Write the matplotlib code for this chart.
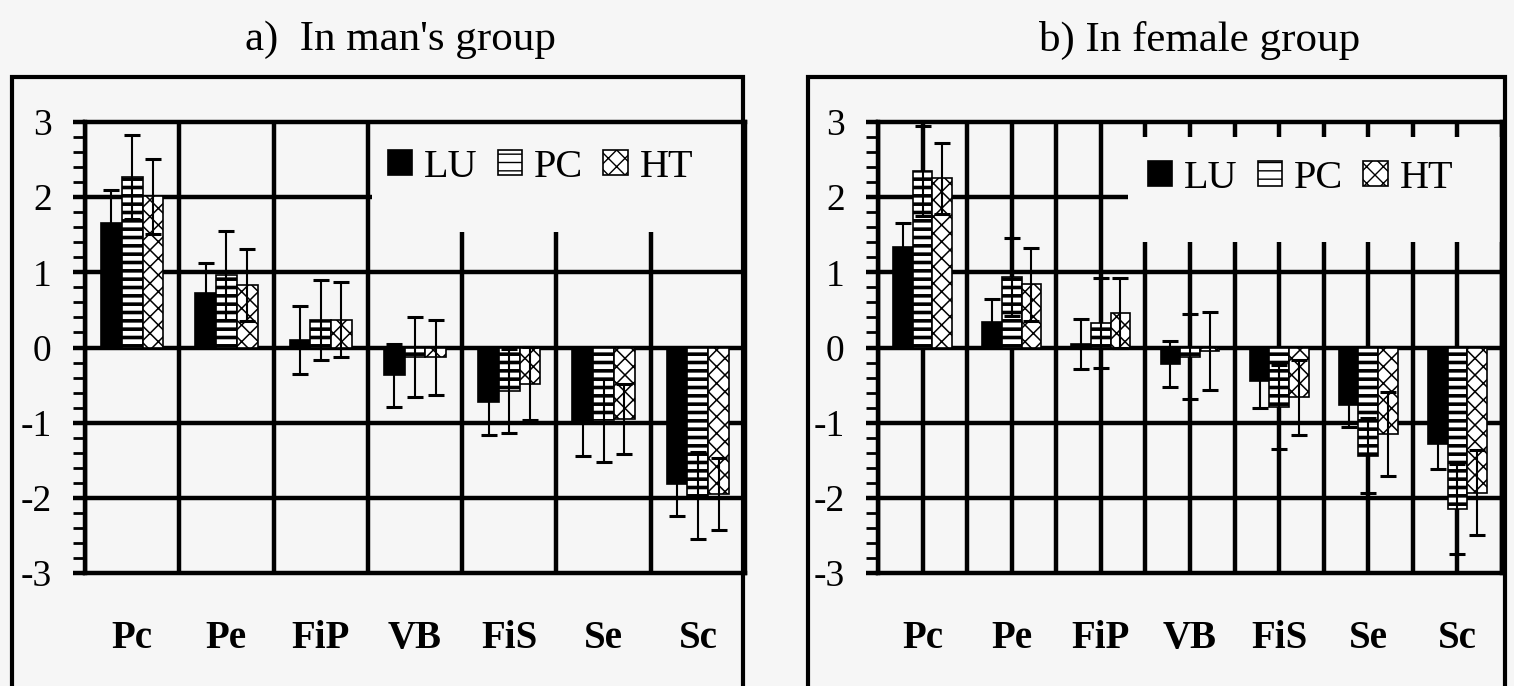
import numpy as np
import matplotlib.pyplot as plt
from matplotlib.patches import Rectangle, Patch
from matplotlib.ticker import MultipleLocator

plt.rcParams['font.family'] = ['Liberation Serif', 'DejaVu Serif']
plt.rcParams['axes.unicode_minus'] = False

# ---- data ----
categories = ['Pc', 'Pe', 'FiP', 'VB', 'FiS', 'Se', 'Sc']
series_names = ['LU', 'PC', 'HT']

# a) man's group
man_lu = [1.65, 0.72, 0.10, -0.37, -0.73, -0.99, -1.82]
man_lu_err = [0.44, 0.40, 0.45, 0.42, 0.44, 0.45, 0.42]
man_pc = [2.27, 0.96, 0.37, -0.13, -0.58, -0.97, -1.97]
man_pc_err = [0.56, 0.59, 0.53, 0.53, 0.56, 0.55, 0.58]
man_ht = [2.01, 0.83, 0.37, -0.13, -0.48, -0.95, -1.95]
man_ht_err = [0.50, 0.48, 0.50, 0.50, 0.49, 0.47, 0.48]

# b) female group
female_lu = [1.34, 0.34, 0.05, -0.22, -0.44, -0.77, -1.28]
female_lu_err = [0.31, 0.30, 0.33, 0.31, 0.36, 0.29, 0.34]
female_pc = [2.35, 0.94, 0.33, -0.12, -0.79, -1.44, -2.15]
female_pc_err = [0.60, 0.52, 0.60, 0.57, 0.56, 0.50, 0.60]
female_ht = [2.25, 0.84, 0.46, -0.05, -0.66, -1.15, -1.93]
female_ht_err = [0.47, 0.49, 0.47, 0.52, 0.50, 0.56, 0.56]

BG = '#f6f6f6'
GRID_LW = 3.2
BAR_W = 0.22


def draw_panel(ax, values, errors, grid_step, cover, legend_xy):
    ax.set_facecolor(BG)
    ax.set_xlim(0, len(categories))
    ax.set_ylim(-3, 3)

    # heavy grid like the old spreadsheet chart
    for y in range(-2, 3):
        ax.axhline(y, color='black', lw=GRID_LW, zorder=1)
    for gx in np.arange(0, len(categories) + 1e-9, grid_step):
        ax.axvline(gx, color='black', lw=GRID_LW, zorder=1)
    # the legend box hides part of the grid
    ax.add_patch(Rectangle((cover[0], cover[1]), cover[2], cover[3],
                           facecolor=BG, edgecolor='none', zorder=1.5))

    x = np.arange(len(categories)) + 0.5
    styles = [dict(color='black', hatch=None, hlw=1.0),
              dict(color='white', hatch='--', hlw=2.6),
              dict(color='white', hatch='xx', hlw=1.1)]
    handles = []
    for i, (vals, errs, st) in enumerate(zip(values, errors, styles)):
        xs = x + (i - 1) * BAR_W
        with plt.rc_context({'hatch.linewidth': st['hlw']}):
            ax.bar(xs, vals, BAR_W, color=st['color'], edgecolor='black',
                   lw=1.2, hatch=st['hatch'], zorder=2)
            handles.append(Patch(facecolor=st['color'], edgecolor='black',
                                 hatch=st['hatch'], lw=1.2))
        ax.errorbar(xs, vals, yerr=errs, fmt='none', ecolor='black',
                    elinewidth=1.5, capsize=5.5, capthick=2.2, zorder=3)

    ax.legend(handles, series_names, ncol=3, loc='center',
              bbox_to_anchor=legend_xy, bbox_transform=ax.transData,
              frameon=False, fontsize=29, handlelength=0.6, handleheight=0.6,
              handletextpad=0.3, columnspacing=0.5, borderpad=0)

    ax.set_xticks(x, categories, fontweight='bold', fontsize=28)
    ax.tick_params(axis='x', length=0, pad=34)
    ax.set_yticks(range(-3, 4))
    ax.tick_params(axis='y', which='major', length=9, width=GRID_LW,
                   labelsize=27, pad=15)
    ax.yaxis.set_minor_locator(MultipleLocator(0.2))
    ax.tick_params(axis='y', which='minor', length=9, width=2)
    for sp in ax.spines.values():
        sp.set_linewidth(GRID_LW)
        sp.set_zorder(2.5)


def main():
    fig = plt.figure(figsize=(15.14, 6.86), dpi=100, facecolor=BG)
    W, H = 1514, 686

    # outer chart frames
    for x0, x1 in [(12, 743), (808, 1505)]:
        fig.add_artist(Rectangle((x0 / W, -0.02), (x1 - x0) / W, (H - 77) / H + 0.02,
                                 transform=fig.transFigure, fill=False,
                                 lw=3, edgecolor='black'))

    ax1 = fig.add_axes([85 / W, (H - 573) / H, 660 / W, 451 / H])
    ax2 = fig.add_axes([878 / W, (H - 573) / H, 624 / W, 451 / H])

    draw_panel(ax1, [man_lu, man_pc, man_ht], [man_lu_err, man_pc_err, man_ht_err],
               1.0, (3.04, 1.53, 3.96, 1.47), (4.83, 2.4))
    draw_panel(ax2, [female_lu, female_pc, female_ht],
               [female_lu_err, female_pc_err, female_ht_err],
               0.5, (2.8, 1.4, 4.2, 1.4), (4.74, 2.25))

    fig.text(400 / W, 1 - 40 / H, "a)  In man's group", ha='center', va='center', fontsize=31)
    fig.text(1200 / W, 1 - 40 / H, "b) In female group", ha='center', va='center', fontsize=31)

    fig.savefig('out.png', dpi=100, facecolor=BG)


if __name__ == '__main__':
    main()
